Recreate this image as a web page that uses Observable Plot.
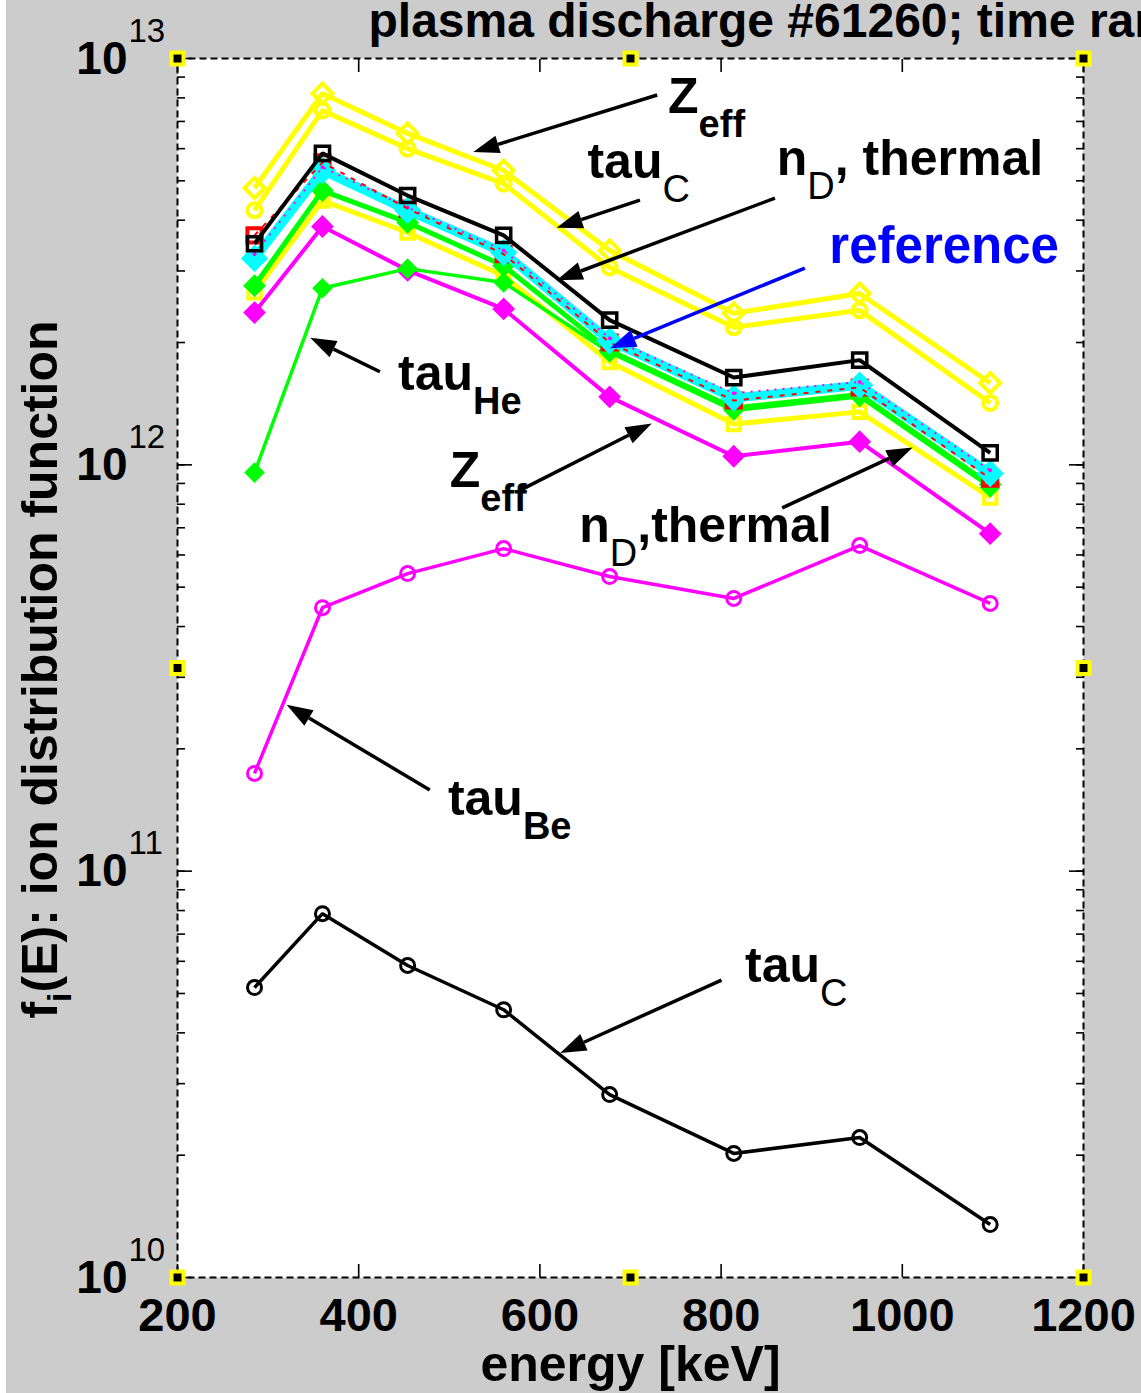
<!DOCTYPE html>
<html>
<head>
<meta charset="utf-8">
<script src="https://cdn.jsdelivr.net/npm/d3@7"></script>
<script src="https://cdn.jsdelivr.net/npm/@observablehq/plot@0.6"></script>
<style>
  html, body { margin: 0; padding: 0; background: #ffffff; }
  #chart {
    width: 1141px; height: 1393px; overflow: hidden;
    background: linear-gradient(to right, #ffffff 0, #ffffff 6px, #cccccc 6px);
  }
  #chart svg { display: block; }
</style>
</head>
<body>
<div id="chart"></div>
<script>
// ---- data: fast-ion distribution f_i(E) for each model run -------------
const energy = [285, 360, 454, 560, 677, 814, 953, 1097];           // keV

const runZeffHi   = [4.80e12, 8.20e12, 6.54e12, 5.30e12, 3.37e12, 2.36e12, 2.64e12, 1.59e12];
const runTauCHi   = [4.23e12, 7.45e12, 6.00e12, 4.92e12, 3.06e12, 2.18e12, 2.40e12, 1.42e12];
const runNdHi     = [3.50e12, 5.84e12, 4.60e12, 3.67e12, 2.27e12, 1.64e12, 1.81e12, 1.07e12];
const runRed      = [3.67e12, 5.55e12, 4.27e12, 3.30e12, 2.00e12, 1.44e12, 1.55e12, 9.25e11];
const reference   = [3.22e12, 5.30e12, 4.23e12, 3.33e12, 2.02e12, 1.46e12, 1.57e12, 9.52e11];
const runMagDot   = [3.30e12, 5.40e12, 4.30e12, 3.37e12, 2.05e12, 1.50e12, 1.60e12, 9.70e11];
const runGreen    = [2.76e12, 4.73e12, 3.95e12, 3.09e12, 1.91e12, 1.38e12, 1.49e12, 8.94e11];
const runNdLo     = [2.66e12, 4.47e12, 3.73e12, 2.92e12, 1.79e12, 1.26e12, 1.35e12, 8.31e11];
const runZeffLo   = [2.37e12, 3.86e12, 3.01e12, 2.42e12, 1.47e12, 1.05e12, 1.14e12, 6.77e11];
const runTauHe    = [9.57e11, 2.72e12, 3.04e12, 2.81e12, 1.89e12, 1.36e12, 1.47e12, 8.80e11];
const runTauBe    = [1.74e11, 4.45e11, 5.40e11, 6.22e11, 5.31e11, 4.69e11, 6.33e11, 4.56e11];
const runTauCLo   = [5.17e10, 7.86e10, 5.86e10, 4.56e10, 2.82e10, 2.02e10, 2.21e10, 1.35e10];

// ---- axis ticks ---------------------------------------------------------
const xTicks = [200, 400, 600, 800, 1000, 1200];
const yTicks = [1e10, 1e11, 1e12, 1e13];
const yTickExponents = ["10", "11", "12", "13"];

// ---- texts --------------------------------------------------------------
const titleText = "plasma discharge #61260; time range";
const xLabel = "energy [keV]";

// ---- drawing order and line/marker styles per run -----------------------
// (the red run is split: markers sit under the reference, its line on top)
const runs = [
  ["zeffHi",  runZeffHi,  "both"],
  ["tauCHi",  runTauCHi,  "both"],
  ["ndLo",    runNdLo,    "both"],
  ["zeffLo",  runZeffLo,  "both"],
  ["tauHe",   runTauHe,   "both"],
  ["green",   runGreen,   "both"],
  ["red",     runRed,     "dots"],
  ["ref",     reference,  "both"],
  ["magDot",  runMagDot,  "both"],
  ["red",     runRed,     "line"],
  ["ndHi",    runNdHi,    "both"],
  ["tauBe",   runTauBe,   "both"],
  ["tauCLo",  runTauCLo,  "both"]
];
const styles = {
  zeffHi: {color: "#ffff00", width: 5, symbol: "diamond2", r: 9, fill: "none", mw: 4},
  tauCHi: {color: "#ffff00", width: 5, symbol: "circle",   r: 7, fill: "none", mw: 4},
  ndLo:   {color: "#ffff00", width: 5, symbol: "square",   r: 7, fill: "none", mw: 4},
  zeffLo: {color: "#ff00ff", width: 4, symbol: "diamond2", r: 9, fill: "#ff00ff", mw: 2},
  tauHe:  {color: "#00ff00", width: 3.5, symbol: "diamond2", r: 8, fill: "#00ff00", mw: 2},
  green:  {color: "#00ff00", width: 5, symbol: "diamond2", r: 9, fill: "#00ff00", mw: 2},
  ref:    {color: "#00ffff", width: 9, symbol: "diamond2", r: 11, fill: "#00ffff", mw: 2},
  magDot: {color: "#ff00ff", width: 2, dash: "2,6", symbol: "circle", r: 1.5, fill: "#ff00ff", mw: 1},
  red:    {color: "#ff0000", width: 2, dash: "5,7", symbol: "square", r: 8, fill: "none", mw: 4},
  ndHi:   {color: "#000000", width: 4, symbol: "square",   r: 8, fill: "none", mw: 3.5},
  tauBe:  {color: "#ff00ff", width: 3.5, symbol: "circle", r: 7, fill: "none", mw: 3},
  tauCLo: {color: "#000000", width: 3.5, symbol: "circle", r: 7, fill: "none", mw: 3}
};

// long table built from the arrays above
const rows = runs
  .filter(([, , part]) => part !== "line")
  .flatMap(([key, values]) => values.map((f, i) => ({run: key, energy: energy[i], f})));

// ---- annotations (data coordinates) ------------------------------------
const arrows = [
  {x1: 730, y1: 8.11e12, x2: 527, y2: 5.87e12, color: "#000000"},
  {x1: 711, y1: 4.47e12, x2: 619, y2: 3.82e12, color: "#000000"},
  {x1: 860, y1: 4.52e12, x2: 619, y2: 2.84e12, color: "#000000"},
  {x1: 893, y1: 3.04e12, x2: 678, y2: 1.93e12, color: "#0000ff"},
  {x1: 424, y1: 1.69e12, x2: 347, y2: 2.05e12, color: "#000000"},
  {x1: 579, y1: 8.64e11, x2: 724, y2: 1.26e12, color: "#000000"},
  {x1: 868, y1: 7.81e11, x2: 1012, y2: 1.10e12, color: "#000000"},
  {x1: 479, y1: 1.58e11, x2: 321, y2: 2.56e11, color: "#000000"},
  {x1: 801, y1: 5.38e10, x2: 623, y2: 3.56e10, color: "#000000"}
];
const labels = [
  {x: 742, y: 7.32e12, parts: [["Z"], ["eff", "sub"]]},
  {x: 653, y: 5.07e12, parts: [["tau"], ["C", "sub", "normal"]]},
  {x: 862, y: 5.15e12, parts: [["n"], ["D", "sub", "normal"], [", thermal"]]},
  {x: 920, y: 3.13e12, parts: [["reference"]], color: "#0000ff", size: 51},
  {x: 444, y: 1.52e12, parts: [["tau"], ["He", "sub"]]},
  {x: 501, y: 8.79e11, parts: [["Z"], ["eff", "sub"]]},
  {x: 644, y: 6.44e11, parts: [["n"], ["D", "sub", "normal"], [",thermal"]]},
  {x: 499, y: 1.37e11, parts: [["tau"], ["Be", "sub"]]},
  {x: 827, y: 5.32e10, parts: [["tau"], ["C", "sub", "normal"]]}
];
const handles = [
  [200, 1e13], [700, 1e13], [1200, 1e13],
  [200, 3.162e11], [1200, 3.162e11],
  [200, 1e10], [700, 1e10], [1200, 1e10]
];

const FONT = "'Liberation Sans', Arial, Helvetica, sans-serif";
const NS = "http://www.w3.org/2000/svg";

// text with subscript runs, placed through the plot's scales
function richText(items, place) {
  return (index, scales, values, dims) => {
    const g = document.createElementNS(NS, "g");
    g.setAttribute("font-family", FONT);
    for (const it of items) {
      const [px, py] = place(it, scales, dims);
      const t = document.createElementNS(NS, "text");
      t.setAttribute("transform", `translate(${px},${py})` + (it.rotate ? ` rotate(${it.rotate})` : ""));
      t.setAttribute("text-anchor", it.anchor || "start");
      t.setAttribute("fill", it.color || "#000000");
      t.setAttribute("font-size", it.size || 50);
      t.setAttribute("font-weight", "bold");
      let shift = 0;
      for (const [s, role, weight] of it.parts) {
        const ts = document.createElementNS(NS, "tspan");
        const target = role === "sub" ? (it.subShift ?? 24) : 0;
        ts.setAttribute("dy", target - shift);
        shift = target;
        if (role === "sub") ts.setAttribute("font-size", it.subSize || 38);
        if (weight) ts.setAttribute("font-weight", weight);
        ts.textContent = s;
        t.appendChild(ts);
      }
      g.appendChild(t);
    }
    return g;
  };
}

// straight arrows with filled heads, endpoints through the scales
function arrowMark(list) {
  return (index, scales) => {
    const g = document.createElementNS(NS, "g");
    for (const a of list) {
      const x1 = scales.x(a.x1), y1 = scales.y(a.y1);
      const x2 = scales.x(a.x2), y2 = scales.y(a.y2);
      const ang = Math.atan2(y2 - y1, x2 - x1);
      const L = 26, W = 9;
      const bx = x2 - L * Math.cos(ang), by = y2 - L * Math.sin(ang);
      const line = document.createElementNS(NS, "line");
      line.setAttribute("x1", x1); line.setAttribute("y1", y1);
      line.setAttribute("x2", bx); line.setAttribute("y2", by);
      line.setAttribute("stroke", a.color); line.setAttribute("stroke-width", 3.5);
      g.appendChild(line);
      const head = document.createElementNS(NS, "polygon");
      const px = -Math.sin(ang) * W, py = Math.cos(ang) * W;
      head.setAttribute("points", `${x2},${y2} ${bx + px},${by + py} ${bx - px},${by - py}`);
      head.setAttribute("fill", a.color);
      g.appendChild(head);
    }
    return g;
  };
}

const runMarks = runs.flatMap(([key, , part]) => {
  const s = styles[key];
  const data = rows.filter(d => d.run === key);
  const out = [];
  if (part !== "dots") out.push(Plot.line(data, {x: "energy", y: "f", stroke: s.color, strokeWidth: s.width,
      strokeDasharray: s.dash, strokeLinejoin: "miter", strokeLinecap: "butt"}));
  if (part !== "line") out.push(Plot.dot(data, {x: "energy", y: "f", symbol: s.symbol, r: s.r,
      stroke: s.color, fill: s.fill, strokeWidth: s.mw}));
  return out;
});

const tickOpts = {tickFormat: () => "", label: null, stroke: "#000000", strokeWidth: 1.6};

const chart = Plot.plot({
  width: 1141,
  height: 1393,
  marginLeft: 177,
  marginRight: 58,
  marginTop: 58,
  marginBottom: 116,
  style: {background: "transparent", fontFamily: FONT, overflow: "hidden"},
  x: {type: "linear", domain: [200, 1200]},
  y: {type: "log", domain: [1e10, 1e13]},
  marks: [
    Plot.frame({fill: "#ffffff"}),
    // inward tick marks on all four sides
    Plot.axisY({anchor: "left", tickSize: -8, ...tickOpts}),
    Plot.axisY({anchor: "right", tickSize: -8, ...tickOpts}),
    Plot.axisY(yTicks, {anchor: "left", tickSize: -15, ...tickOpts}),
    Plot.axisY(yTicks, {anchor: "right", tickSize: -15, ...tickOpts}),
    Plot.axisX(xTicks, {anchor: "bottom", tickSize: -13, ...tickOpts}),
    Plot.axisX(xTicks, {anchor: "top", tickSize: -13, ...tickOpts}),
    ...runMarks,
    arrowMark(arrows),
    richText(labels, (it, sc) => [sc.x(it.x), sc.y(it.y)]),
    // dashed axes box and selection handles
    Plot.frame({stroke: "#000000", strokeWidth: 2, strokeDasharray: "7,4"}),
    Plot.dot(handles, {x: d => d[0], y: d => d[1], symbol: "square", r: 9, fill: "#ffff00", stroke: "none"}),
    Plot.dot(handles, {x: d => d[0], y: d => d[1], symbol: "square", r: 4.5, fill: "#000000", stroke: "none"}),
    // tick labels
    Plot.text(xTicks, {x: d => d, frameAnchor: "bottom", dy: 53, lineAnchor: "bottom",
      text: d => String(d), fontSize: 47, fontWeight: "bold", fill: "#000000"}),
    Plot.text(yTicks, {y: d => d, frameAnchor: "left", dx: -50, dy: 15, lineAnchor: "bottom",
      textAnchor: "end", text: () => "10", fontSize: 46, fontWeight: "bold", fill: "#000000"}),
    Plot.text(yTicks, {y: d => d, frameAnchor: "left", dx: -49, dy: -17, lineAnchor: "bottom",
      textAnchor: "start", text: (d, i) => yTickExponents[i], fontSize: 33, fill: "#000000"}),
    // title and axis labels
    Plot.text([titleText], {frameAnchor: "top-left", dx: 191, dy: -22, lineAnchor: "bottom",
      textAnchor: "start", text: d => d, fontSize: 48, fontWeight: "bold", fill: "#000000"}),
    Plot.text([xLabel], {frameAnchor: "bottom", dy: 103, lineAnchor: "bottom",
      text: d => d, fontSize: 50, fontWeight: "bold", fill: "#000000"}),
    richText([{parts: [["f"], ["i", "sub"], ["(E): ion distribution function"]],
      rotate: -90, anchor: "middle", subShift: 14, subSize: 34}],
      (it, sc, dims) => [dims.marginLeft - 120,
        (dims.marginTop + dims.height - dims.marginBottom) / 2 + 2])
  ]
});

document.getElementById("chart").appendChild(chart);
</script>
</body>
</html>
